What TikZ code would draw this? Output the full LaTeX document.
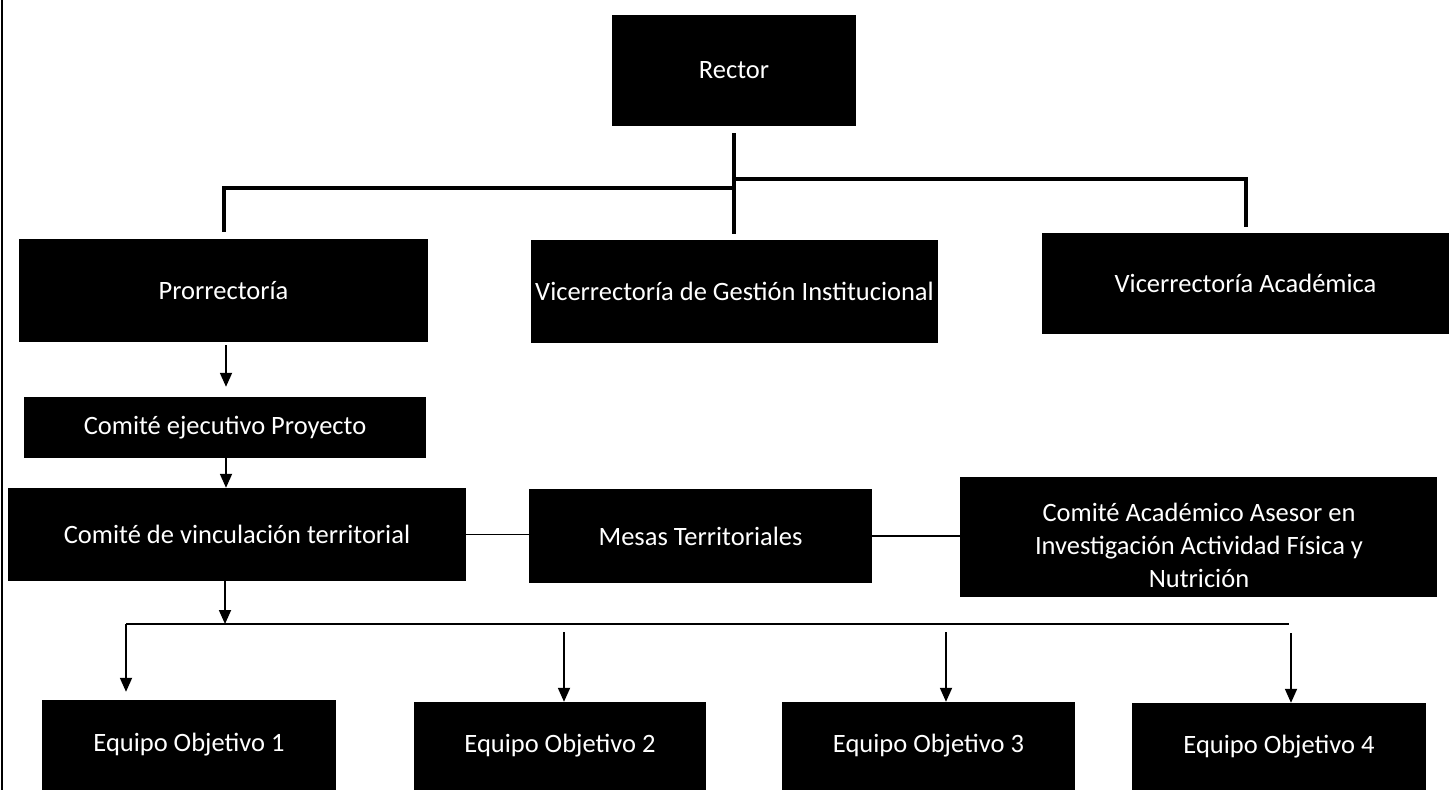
\documentclass[tikz,border=0pt]{standalone}
\usepackage{fontspec}
\setmainfont{Carlito}
\usetikzlibrary{arrows.meta}
\begin{document}
\begin{tikzpicture}[x=1pt,y=-1pt,
  box/.style={fill=black,text=white,inner sep=0pt,font=\fontsize{26.5}{33}\selectfont},
  lbl/.style={text=white,inner sep=0pt,align=center,font=\fontsize{26.5}{33}\selectfont},
  heavy/.style={line width=4.5pt},
  lite/.style={line width=1.8pt},
  arr/.style={line width=1.8pt,-{Triangle[width=12pt,length=14pt]}}]
\useasboundingbox (0,0) rectangle (1453,790);
\draw[line width=1.5pt] (2,0) -- (2,790);
% boxes
\node[box,minimum width=244pt,minimum height=111pt] (rector) at (734,70.5) {Rector};
\node[box,minimum width=409pt,minimum height=103pt] (pro) at (223.5,290.5) {Prorrectoría};
\node[box,minimum width=407pt,minimum height=103pt] (vg) at (734.5,291.5) {Vicerrectoría de Gestión Institucional};
\node[box,minimum width=407pt,minimum height=101pt] (va) at (1245.5,283.5) {Vicerrectoría Académica};
\node[box,minimum width=402pt,minimum height=61pt] (cep) at (225,427.5) {Comité ejecutivo Proyecto};
\node[box,minimum width=458pt,minimum height=93pt] (cvt) at (237,534.5) {Comité de vinculación territorial};
\node[box,minimum width=343pt,minimum height=94pt] (mt) at (700.5,536) {Mesas Territoriales};
\node[box,minimum width=477pt,minimum height=120pt] (caa) at (1198.5,537) {};
\node[lbl] (caatext) at (1199,545) {Comité Académico Asesor en\\Investigación Actividad Física y\\Nutrición};
\node[box,minimum width=294pt,minimum height=90pt] (e1) at (189,745) {Equipo Objetivo 1};
\node[box,minimum width=292pt,minimum height=88pt] (e2) at (560,746) {Equipo Objetivo 2};
\node[box,minimum width=293pt,minimum height=88pt] (e3) at (928.5,746) {Equipo Objetivo 3};
\node[box,minimum width=294pt,minimum height=87pt] (e4) at (1279,746.5) {Equipo Objetivo 4};
% top connectors
\coordinate (stemtop) at (734,133);
\coordinate (stembot) at (734,234);
\coordinate (jl) at (734,188);
\coordinate (jr) at (734,179);
\draw[heavy] (stemtop) -- (stembot);
\draw[heavy] (jl) -- (jl -| 224,0) -- ([yshift=7pt]pro.north -| 224,0);
\draw[heavy] (jr) -- (jr -| 1246,0) -- ([yshift=6pt]va.north -| 1246,0);
% left chain
\draw[arr] ([xshift=2.5pt,yshift=-3pt]pro.south) -- ([xshift=1pt,yshift=10pt]cep.north);
\draw[arr] ([xshift=1pt]cep.south) -- ([xshift=1pt]cep.south |- cvt.north);
\draw[lite] (cvt.east) -- (cvt.east -| mt.west);
\draw[lite] (mt.east) -- (mt.east -| caa.west);
% bus
\coordinate (busL) at (126,624);
\coordinate (busR) at (1289,624);
\draw[arr] ([xshift=-12pt]cvt.south) -- ([xshift=-12pt]cvt.south |- busL);
\draw[lite] (busL) -- (busR);
\draw[arr] (busL) -- ([yshift=8pt]busL |- e1.north);
\coordinate (d2) at (564,632);
\coordinate (d3) at (946,632);
\coordinate (d4) at (1291,633);
\draw[arr] (d2) -- (d2 |- e2.north);
\draw[arr] (d3) -- (d3 |- e3.north);
\draw[arr] (d4) -- (d4 |- e4.north);
\end{tikzpicture}
\end{document}
